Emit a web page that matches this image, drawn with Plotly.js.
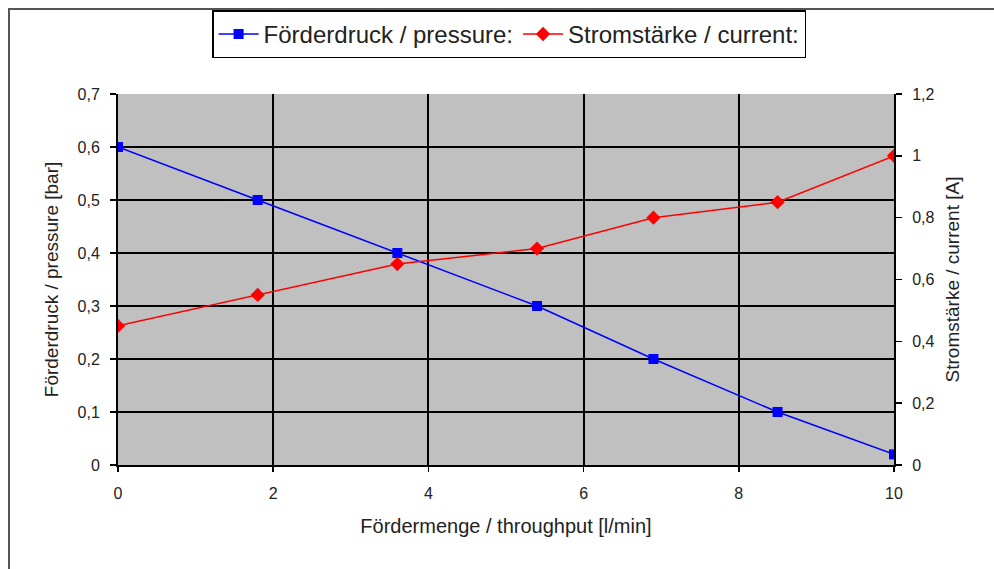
<!DOCTYPE html>
<html>
<head>
<meta charset="utf-8">
<script src="https://cdn.plot.ly/plotly-3.0.1.min.js"></script>
<style>
  html, body { margin: 0; padding: 0; background: #ffffff; }
  #frame {
    position: absolute; left: 8px; top: 8px; width: 990px; height: 565px;
    border-left: 2px solid #555; border-top: 2px solid #555;
  }
  #chart { position: absolute; left: 0; top: 0; width: 994px; height: 569px; }
</style>
</head>
<body>
<div id="frame"></div>
<div id="chart"></div>
<script>
// Pump characteristic: throughput vs. delivery pressure and motor current
const throughput = [0, 1.8, 3.6, 5.4, 6.9, 8.5, 10];       // l/min
const pressure   = [0.6, 0.5, 0.4, 0.3, 0.2, 0.1, 0.02];   // bar
const current    = [0.45, 0.55, 0.65, 0.70, 0.80, 0.85, 1.0]; // A

const pressureName = 'Förderdruck / pressure:';
const currentName  = 'Stromstärke / current:';
const xTitle  = 'Fördermenge / throughput [l/min]';
const y1Title = 'Förderdruck / pressure [bar]';
const y2Title = 'Stromstärke / current [A]';

const font = 'Liberation Sans, Arial, sans-serif';
const textColor = '#222222';

const traces = [
  {
    x: throughput, y: pressure, name: pressureName, type: 'scatter', mode: 'lines+markers',
    line: { color: '#0000ff', width: 1.5 },
    marker: { symbol: 'square', size: 10, color: '#0000ff' },
    yaxis: 'y'
  },
  {
    x: throughput, y: current, name: currentName, type: 'scatter', mode: 'lines+markers',
    line: { color: '#ff0000', width: 1.5 },
    marker: { symbol: 'diamond', size: 11, color: '#ff0000' },
    yaxis: 'y2'
  }
];

const layout = {
  width: 994, height: 569,
  margin: { l: 118, r: 100, t: 93, b: 104 },
  paper_bgcolor: 'rgba(0,0,0,0)',
  plot_bgcolor: '#c0c0c0',
  separators: ',.',
  font: { family: font, color: textColor, size: 16 },
  showlegend: true,
  legend: {
    orientation: 'h', x: 0.504, xanchor: 'center', y: 1.222, yanchor: 'top',
    bgcolor: '#ffffff', bordercolor: '#000000', borderwidth: 1.5,
    font: { family: font, size: 24, color: textColor },
    itemwidth: 40
  },
  xaxis: {
    range: [0, 10], dtick: 2, tick0: 0,
    showgrid: true, gridcolor: '#000000', gridwidth: 2,
    showline: true, linecolor: '#000000', linewidth: 2, mirror: false,
    ticks: 'outside', ticklen: 5, tickcolor: '#000000', tickwidth: 1.5,
    ticklabelstandoff: 8,
    zeroline: false,
    tickfont: { size: 16, color: textColor },
    title: { text: xTitle, font: { size: 20, color: textColor }, standoff: 18 }
  },
  yaxis: {
    range: [0, 0.7], dtick: 0.1, tick0: 0,
    showgrid: true, gridcolor: '#000000', gridwidth: 2,
    showline: true, linecolor: '#000000', linewidth: 2,
    ticks: 'outside', ticklen: 6, tickcolor: '#000000', tickwidth: 1.5,
    ticklabelstandoff: 7,
    zeroline: false,
    tickfont: { size: 16, color: textColor },
    title: { text: y1Title, font: { size: 19, color: textColor }, standoff: 14 }
  },
  yaxis2: {
    range: [0, 1.2], dtick: 0.2, tick0: 0,
    overlaying: 'y', side: 'right',
    showgrid: false,
    showline: true, linecolor: '#000000', linewidth: 2,
    ticks: 'outside', ticklen: 6, tickcolor: '#000000', tickwidth: 1.5,
    ticklabelstandoff: 7,
    zeroline: false,
    tickfont: { size: 16, color: textColor },
    title: { text: y2Title, font: { size: 19, color: textColor }, standoff: 12 }
  }
};

Plotly.newPlot('chart', traces, layout, { displayModeBar: false, staticPlot: true });
</script>
</body>
</html>
